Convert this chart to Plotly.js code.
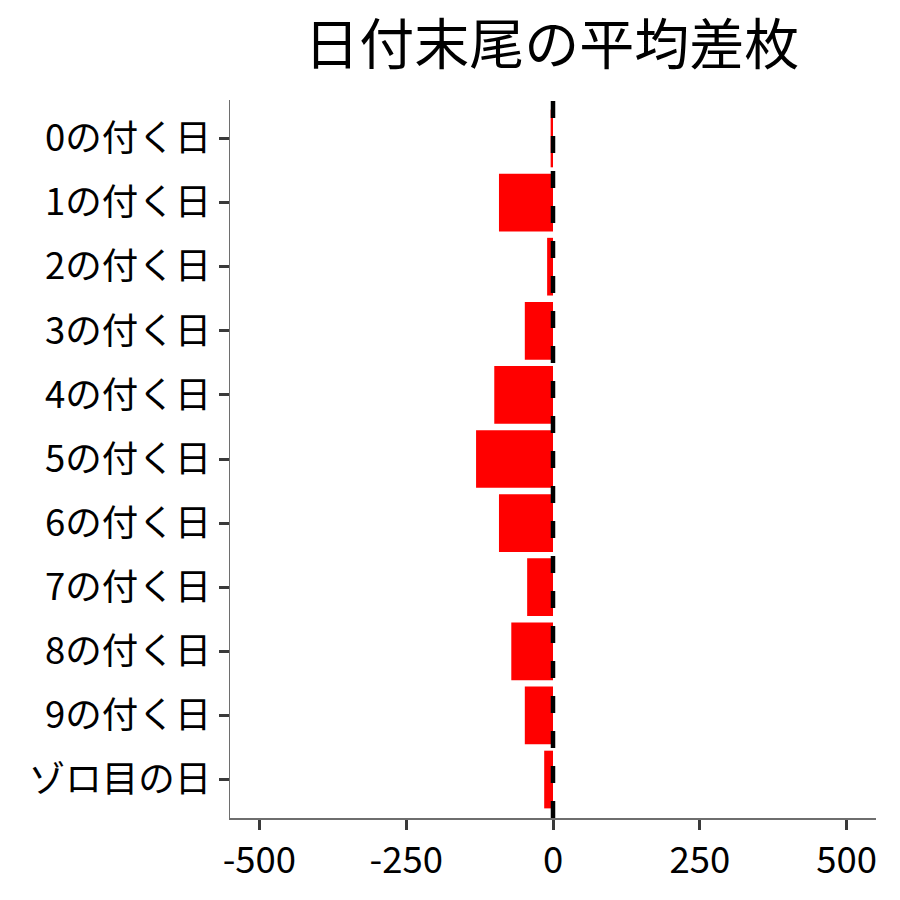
<!DOCTYPE html>
<html>
<head>
<meta charset="utf-8">
<script src="https://cdn.plot.ly/plotly-3.0.1.min.js"></script>
<style>
  body { margin: 0; background: #fff; }
  #chart { width: 900px; height: 900px; }
</style>
</head>
<body>
<div id="chart"></div>
<script>
// categories, top to bottom
const days = ['0の付く日', '1の付く日', '2の付く日', '3の付く日', '4の付く日',
	'5の付く日', '6の付く日', '7の付く日', '8の付く日', '9の付く日', 'ゾロ目の日'];
// average difference (medals)
const avgDiff = [-4, -92, -10, -48, -100, -131, -92, -44, -71, -48, -15];
const xTicks = [-500, -250, 0, 250, 500];

const font = 'Noto Sans CJK JP, Noto Sans, sans-serif';

const trace = {
	type: 'bar',
	orientation: 'h',
	x: avgDiff,
	y: days,
	width: 0.9,
	marker: { color: '#ff0000' },
	hoverinfo: 'x+y'
};

const layout = {
	width: 900,
	height: 900,
	margin: { l: 230, r: 24, t: 100, b: 82 },
	paper_bgcolor: '#ffffff',
	plot_bgcolor: '#ffffff',
	showlegend: false,
	font: { family: font, color: '#000000' },
	title: {
		text: '日付末尾の平均差枚',
		font: { family: font, size: 55, color: '#000000' },
		x: 0.613,
		xanchor: 'center',
		y: 0.95,
		yanchor: 'middle'
	},
	xaxis: {
		range: [-550, 550],
		tickvals: xTicks,
		ticktext: xTicks.map(String),
		showgrid: false,
		zeroline: false,
		showline: true,
		linecolor: '#6e6e6e',
		linewidth: 1.5,
		ticks: 'outside',
		ticklen: 10,
		tickwidth: 3,
		tickcolor: '#3a3a3a',
		tickfont: { family: font, size: 36.5, color: '#000000' }
	},
	yaxis: {
		type: 'category',
		categoryorder: 'array',
		categoryarray: days,
		range: [10.6, -0.6],
		showgrid: false,
		zeroline: false,
		showline: true,
		linecolor: '#6e6e6e',
		linewidth: 1.5,
		ticks: 'outside',
		ticklen: 10,
		tickwidth: 3,
		tickcolor: '#3a3a3a',
		tickfont: { family: font, size: 36.5, color: '#000000' }
	},
	shapes: [{
		type: 'line',
		xref: 'x',
		yref: 'paper',
		x0: 0, x1: 0,
		y0: 0, y1: 1,
		line: { color: '#000000', width: 4.5, dash: '17px,18px' },
		layer: 'above'
	}]
};

Plotly.newPlot('chart', [trace], layout, { displayModeBar: false, staticPlot: true });
</script>
</body>
</html>
